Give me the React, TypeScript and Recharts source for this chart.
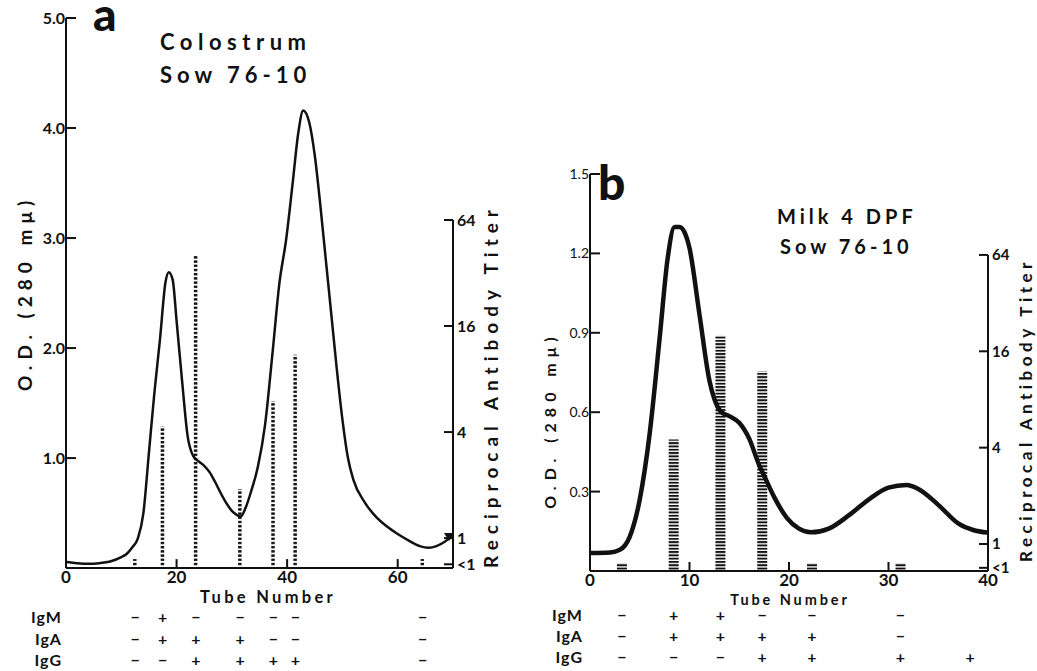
import React from 'react';
import { ComposedChart, Line, Bar, XAxis, YAxis, ReferenceLine } from 'recharts';

const FONT = "Lato, 'Open Sans', sans-serif";
const INK = '#111';
const LT_TICK = 0.71; // where the "<1" tick sits on the titer axis
const LT = 0.76; // height a "<1" titer is drawn to

// (a) colostrum, sow 76-10
const tubesA = [0, 2, 4, 6, 8, 10, 11, 12, 13, 14, 15, 16, 17, 18, 18.6, 19.3, 20, 21, 22, 23, 24, 25, 26, 27, 28, 29, 30, 31, 31.6, 32.5, 33.5, 34.7, 36, 37.4, 38.6, 39.8, 41, 42, 42.9, 44, 45, 46, 47, 48, 49, 50, 51, 52, 54, 56, 58, 60, 62, 64, 65.6, 67, 68.5, 70];
const odA = [0.055, 0.045, 0.04, 0.045, 0.06, 0.1, 0.13, 0.19, 0.27, 0.5, 1.05, 1.6, 2.08, 2.6, 2.69, 2.62, 2.25, 1.7, 1.2, 1.02, 0.97, 0.93, 0.87, 0.78, 0.68, 0.59, 0.52, 0.48, 0.47, 0.55, 0.7, 0.92, 1.3, 1.98, 2.59, 2.98, 3.5, 3.95, 4.16, 4.05, 3.75, 3.3, 2.8, 2.3, 1.8, 1.35, 1.0, 0.8, 0.6, 0.47, 0.38, 0.31, 0.25, 0.2, 0.185, 0.2, 0.24, 0.3];
const fractionsA = [12.5, 17.5, 23.5, 31.5, 37.5, 41.5, 64.5];
const titerA = [LT, 4.3, 40, 1.9, 6, 11, LT];
const igmA = ['−', '+', '−', '−', '−', '−', '−'];
const igaA = ['−', '+', '+', '+', '−', '−', '−'];
const iggA = ['−', '−', '+', '+', '+', '+', '−'];

// (b) milk 4 DPF, sow 76-10
const tubesB = [0, 2, 3, 4, 5, 6, 7, 7.8, 8.5, 9, 9.5, 10, 11, 12, 12.5, 13.2, 14, 15, 16, 17, 17.5, 18.5, 19.8, 21, 22.2, 24, 26, 28, 30, 31.8, 33, 35, 37, 38.5, 40];
const odB = [0.068, 0.07, 0.08, 0.13, 0.27, 0.52, 0.88, 1.18, 1.3, 1.3, 1.28, 1.22, 0.97, 0.72, 0.65, 0.6, 0.585, 0.56, 0.5, 0.4, 0.36, 0.28, 0.2, 0.16, 0.146, 0.16, 0.21, 0.27, 0.315, 0.325, 0.31, 0.25, 0.18, 0.155, 0.145];
const fractionsB = [3.2, 8.4, 13.1, 17.3, 22.3, 31.2, 38.2];
const titerB = [LT, 4.5, 20, 12, LT, LT, null];
const igmB = ['−', '+', '+', '−', '−', '−', ''];
const igaB = ['−', '+', '+', '+', '+', '−', ''];
const iggB = ['−', '−', '−', '+', '+', '+', '+'];

const titerTicks = [Math.log2(LT_TICK), 0, 2, 4, 6];
const titerLabel = (v: number) => (v < 0 ? '<1' : String(Math.round(2 ** v)));

type PanelProps = {
  left: number;
  width: number;
  height: number;
  top: number;
  bottom: number;
  yWidth: number;
  rWidth: number;
  tubes: number[];
  od: number[];
  fractions: number[];
  titers: (number | null)[];
  xMax: number;
  xTicks: number[];
  xMargin: number;
  xHeight: number;
  odMax: number;
  odTicks: number[];
  odFont: { fontSize: number; fontWeight: number };
  titerDomain: [number, number];
  titerFont: number;
  table: [string, string[]][];
  rowH: number;
  labelOffset: number;
  pattern: string;
  barSize: number;
  lineWidth: number;
  arrow?: boolean;
};

// arrowhead on the last point of the curve, pointing at the "1" tick
function ArrowEnd(props: any) {
  const { cx, cy, index, points } = props;
  if (cx == null || index !== points.length - 1) return null;
  return <path d={`M${cx + 2},${cy - 2} L${cx - 9},${cy - 2} L${cx - 4},${cy + 6} Z`} fill={INK} />;
}

function Panel(p: PanelProps) {
  const tickFont = { fill: INK, fontFamily: FONT, fontWeight: 700, fontSize: 17 };
  const signFont = { fill: INK, fontFamily: FONT, fontWeight: 700, fontSize: 16 };
  const curve = p.tubes.map((t, i) => ({ tube: t, od: p.od[i] }));
  const fractions = p.fractions.map((t, i) => ({ tube: t, titer: p.titers[i] }));
  return (
    <div style={{ position: 'absolute', left: p.left, top: 0 }}>
      <ComposedChart width={p.width} height={p.height} data={fractions} margin={{ top: p.top, right: 0, bottom: p.bottom, left: 0 }}>
        <XAxis xAxisId="x0" type="number" dataKey="tube" domain={[0, p.xMax]} ticks={p.xTicks} interval={0}
          allowDataOverflow height={p.xHeight} tickSize={-9} tickMargin={p.xMargin}
          axisLine={{ stroke: INK, strokeWidth: 2 }} tickLine={{ stroke: INK, strokeWidth: 2 }} tick={tickFont} />
        {p.table.map(([name, signs], k) => (
          <XAxis key={name} xAxisId={`x${k + 1}`} type="number" dataKey="tube" domain={[0, p.xMax]} ticks={p.fractions}
            interval={0} allowDataOverflow height={p.rowH} axisLine={false} tickLine={false} tickSize={0} tickMargin={5}
            tickFormatter={(_: number, i: number) => signs[i]} tick={signFont}
            label={{ value: name, position: 'left', offset: p.labelOffset, fill: INK, fontFamily: FONT, fontWeight: 700, fontSize: 16, letterSpacing: 1 }} />
        ))}
        <XAxis xAxisId="xl" type="number" dataKey="tube" domain={[0, p.xMax]} allowDataOverflow hide />
        <YAxis yAxisId="od" type="number" domain={[0, p.odMax]} ticks={p.odTicks} interval={0} allowDataOverflow
          width={p.yWidth} tickSize={-10} tickMargin={11} tickFormatter={(v: number) => v.toFixed(1)}
          axisLine={{ stroke: INK, strokeWidth: 2 }} tickLine={{ stroke: INK, strokeWidth: 2 }}
          tick={{ fill: INK, fontFamily: FONT, ...p.odFont }} />
        <YAxis yAxisId="titer" orientation="right" type="number" domain={p.titerDomain} ticks={titerTicks} interval={0}
          allowDataOverflow width={p.rWidth} tickSize={-9} tickMargin={13} tickFormatter={titerLabel}
          axisLine={false} tickLine={{ stroke: INK, strokeWidth: 2 }}
          tick={{ fill: INK, fontFamily: FONT, fontWeight: 700, fontSize: p.titerFont }} />
        <ReferenceLine xAxisId="x0" yAxisId="titer" ifOverflow="visible"
          segment={[{ x: p.xMax, y: p.titerDomain[0] }, { x: p.xMax, y: 6 }]} stroke={INK} strokeWidth={2} />
        <Bar xAxisId="x0" yAxisId="titer" barSize={p.barSize} fill={`url(#${p.pattern})`} isAnimationActive={false}
          dataKey={(d: any) => (d.titer == null ? null : [p.titerDomain[0], Math.log2(d.titer)])} />
        <Line xAxisId="xl" yAxisId="od" data={curve} type="monotone" dataKey="od" stroke={INK} strokeWidth={p.lineWidth}
          dot={p.arrow ? (props: any) => <ArrowEnd {...props} key={`a${props.index}`} /> : false} isAnimationActive={false} />
      </ComposedChart>
    </div>
  );
}

function T({ x, y, size, children, spacing = 0, weight = 700, rotate = false, anchor = 'start' }: any) {
  return (
    <text x={x} y={y} fontSize={size} fontWeight={weight} fontFamily={FONT} fill={INK} textAnchor={anchor}
      dominantBaseline={rotate ? 'central' : 'alphabetic'} style={{ letterSpacing: spacing }}
      transform={rotate ? `rotate(-90 ${x} ${y})` : undefined}>
      {children}
    </text>
  );
}

export default function App() {
  return (
    <div style={{ position: 'absolute', left: 0, top: 0, width: 1037, height: 671, background: '#fff', overflow: 'hidden' }}>
      <svg width={0} height={0} style={{ position: 'absolute' }}>
        <defs>
          <pattern id="ladderA" patternUnits="userSpaceOnUse" width={20} height={4.2}>
            <rect x={0} y={0} width={20} height={2.4} fill={INK} />
          </pattern>
          <pattern id="ladderB" patternUnits="userSpaceOnUse" width={20} height={3.3}>
            <rect x={0} y={0} width={20} height={1.9} fill={INK} />
          </pattern>
        </defs>
      </svg>
      <Panel left={0} width={520} height={671} top={18} bottom={0} yWidth={66} rWidth={67}
        tubes={tubesA} od={odA} fractions={fractionsA} titers={titerA}
        xMax={70} xTicks={[0, 20, 40, 60]} xMargin={12} xHeight={39} odMax={5} odTicks={[1, 2, 3, 4, 5]}
        odFont={{ fontSize: 16, fontWeight: 700 }} titerDomain={[-0.566, 9.81]} titerFont={16}
        table={[['IgM', igmA], ['IgA', igaA], ['IgG', iggA]]} rowH={21.3} labelOffset={4}
        pattern="ladderA" barSize={3.5} lineWidth={2.5} arrow />
      <Panel left={520} width={517} height={671} top={174} bottom={3} yWidth={70} rWidth={49}
        tubes={tubesB} od={odB} fractions={fractionsB} titers={titerB}
        xMax={40} xTicks={[0, 10, 20, 30, 40]} xMargin={12} xHeight={34} odMax={1.5} odTicks={[0.3, 0.6, 0.9, 1.2, 1.5]}
        odFont={{ fontSize: 14, fontWeight: 400 }} titerDomain={[-0.56, 7.68]} titerFont={15}
        table={[['IgM', igmB], ['IgA', igaB], ['IgG', iggB]]} rowH={21} labelOffset={7}
        pattern="ladderB" barSize={10} lineWidth={4.5} />
      <svg width={1037} height={671} style={{ position: 'absolute', left: 0, top: 0, pointerEvents: 'none' }}>
        <T x={93} y={31} size={46} weight={900}>a</T>
        <T x={160} y={50} size={22} spacing={5.5}>Colostrum</T>
        <T x={160} y={83} size={22} spacing={5}>Sow 76-10</T>
        <T x={24} y={293} size={19} spacing={6} rotate anchor="middle">O.D. (280 mμ)</T>
        <T x={490} y={386} size={19} spacing={6} rotate anchor="middle">Reciprocal Antibody Titer</T>
        <T x={268} y={603} size={16.5} spacing={3.3} anchor="middle">Tube Number</T>
        <T x={598} y={200} size={48} weight={900}>b</T>
        <T x={777} y={224} size={20} spacing={4}>Milk 4 DPF</T>
        <T x={780} y={254} size={20} spacing={4}>Sow 76-10</T>
        <T x={549} y={420} size={16} spacing={6} rotate anchor="middle">O.D. (280 mμ)</T>
        <T x={1025} y={410} size={17} spacing={4.5} rotate anchor="middle">Reciprocal Antibody Titer</T>
        <T x={790} y={605} size={14.5} spacing={2.9} anchor="middle">Tube Number</T>
      </svg>
    </div>
  );
}
